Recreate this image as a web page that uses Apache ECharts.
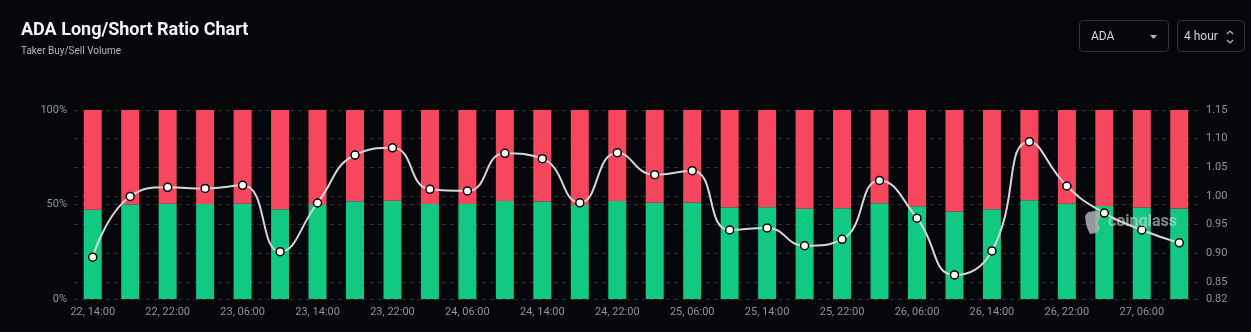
<!DOCTYPE html>
<html>
<head>
<meta charset="utf-8">
<title>ADA Long/Short Ratio Chart</title>
<script src="https://cdn.jsdelivr.net/npm/echarts@6/dist/echarts.min.js"></script>
<style>
  html, body { margin: 0; padding: 0; background: #05070b; }
  #chart { width: 1251px; height: 332px; }
</style>
</head>
<body>
<div id="chart"></div>
<script>
// 4-hour buckets, ADA taker buy/sell volume
const categories = [
  '22, 14:00', '22, 18:00', '22, 22:00',
  '23, 02:00', '23, 06:00', '23, 10:00', '23, 14:00', '23, 18:00', '23, 22:00',
  '24, 02:00', '24, 06:00', '24, 10:00', '24, 14:00', '24, 18:00', '24, 22:00',
  '25, 02:00', '25, 06:00', '25, 10:00', '25, 14:00', '25, 18:00', '25, 22:00',
  '26, 02:00', '26, 06:00', '26, 10:00', '26, 14:00', '26, 18:00', '26, 22:00',
  '27, 02:00', '27, 06:00', '27, 10:00'
];

// Long share (%) per bucket
const longPct = [
  47.17, 49.97, 50.37, 50.32, 50.46, 47.44, 49.69, 51.72, 52.02, 50.29,
  50.21, 51.79, 51.57, 49.70, 51.82, 50.91, 51.08, 48.47, 48.56, 47.73,
  48.03, 50.67, 49.01, 46.29, 47.48, 52.26, 50.43, 49.24, 48.47, 47.86
];

// Short share (%) per bucket
const shortPct = [
  52.83, 50.03, 49.63, 49.68, 49.54, 52.56, 50.31, 48.28, 47.98, 49.71,
  49.79, 48.21, 48.43, 50.30, 48.18, 49.09, 48.92, 51.53, 51.44, 52.27,
  51.97, 49.33, 50.99, 53.71, 52.52, 47.74, 49.57, 50.76, 51.53, 52.14
];

// Long/short ratio per bucket
const ratio = [
  0.8930, 0.9990, 1.0150, 1.0130, 1.0185, 0.9026, 0.9876, 1.0714, 1.0840, 1.0115,
  1.0086, 1.0744, 1.0650, 0.9880, 1.0755, 1.0370, 1.0440, 0.9405, 0.9440, 0.9130,
  0.9242, 1.0270, 0.9610, 0.8620, 0.9040, 1.0947, 1.0173, 0.9700, 0.9405, 0.9180
];

// Right-axis tick labels
const ratioTicks = [0.82, 0.85, 0.90, 0.95, 1.00, 1.05, 1.10, 1.15];

const GREEN = '#12c983';
const RED = '#f6475f';
const AXIS_TEXT = '#8f9399';
const GRID_LINE = '#2b2f36';
const FONT = 'Roboto, "Noto Sans", sans-serif';

const chart = echarts.init(document.getElementById('chart'), null, { renderer: 'canvas' });

chart.setOption({
  backgroundColor: '#05070b',
  animation: false,
  title: {
    text: 'ADA Long/Short Ratio Chart',
    subtext: 'Taker Buy/Sell Volume',
    left: 16,
    top: 16,
    itemGap: 7,
    textStyle: { color: '#f2f3f5', fontSize: 18, fontWeight: 'bold', fontFamily: FONT },
    subtextStyle: { color: '#b4b7bd', fontSize: 10, fontFamily: FONT }
  },
  grid: { left: 74, right: 53, top: 110, bottom: 33 },
  xAxis: {
    type: 'category',
    data: categories,
    axisLine: { show: false },
    axisTick: { show: false },
    axisLabel: {
      interval: 1,
      color: AXIS_TEXT,
      fontSize: 11,
      fontFamily: FONT,
      margin: 8
    }
  },
  yAxis: [
    {
      type: 'value',
      min: 0,
      max: 100,
      interval: 50,
      position: 'left',
      axisLine: { show: false },
      axisTick: { show: false },
      axisLabel: { formatter: '{value}%', color: AXIS_TEXT, fontSize: 11, fontFamily: FONT, margin: 7 },
      splitLine: { show: true, lineStyle: { color: GRID_LINE, type: [4, 4], width: 1 } }
    },
    {
      type: 'value',
      min: 0.82,
      max: 1.15,
      position: 'right',
      axisLine: { show: false },
      axisTick: { show: false, customValues: ratioTicks },
      axisLabel: {
        customValues: ratioTicks,
        formatter: v => v.toFixed(2),
        color: AXIS_TEXT,
        fontSize: 11,
        fontFamily: FONT,
        margin: 8
      },
      splitLine: { show: true, lineStyle: { color: GRID_LINE, type: [4, 4], width: 1 } }
    }
  ],
  series: [
    {
      name: 'Long',
      type: 'bar',
      stack: 'share',
      barWidth: 18,
      yAxisIndex: 0,
      data: longPct,
      itemStyle: { color: GREEN },
      z: 2
    },
    {
      name: 'Short',
      type: 'bar',
      stack: 'share',
      barWidth: 18,
      yAxisIndex: 0,
      data: shortPct,
      itemStyle: { color: RED },
      z: 2
    },
    {
      name: 'Long/Short Ratio',
      type: 'line',
      yAxisIndex: 1,
      data: ratio,
      smooth: 0.5,
      symbol: 'circle',
      symbolSize: 8,
      lineStyle: { color: '#d6d6d6', width: 2 },
      itemStyle: { color: '#ffffff', borderColor: '#000000', borderWidth: 1.5 },
      z: 5
    }
  ],
  graphic: [
    // symbol selector
    {
      type: 'rect',
      shape: { x: 1079.5, y: 20.5, width: 89, height: 31, r: 4 },
      style: { fill: 'rgba(0,0,0,0)', stroke: '#30343b', lineWidth: 1 }
    },
    {
      type: 'text',
      x: 1091, y: 37,
      style: { text: 'ADA', fill: '#d4d6da', font: '12px ' + FONT, verticalAlign: 'middle' }
    },
    {
      type: 'polygon',
      shape: { points: [[1150, 35], [1157, 35], [1153.5, 39]] },
      style: { fill: '#b8bbc0' }
    },
    // interval selector
    {
      type: 'rect',
      shape: { x: 1177.5, y: 20.5, width: 67, height: 31, r: 4 },
      style: { fill: 'rgba(0,0,0,0)', stroke: '#30343b', lineWidth: 1 }
    },
    {
      type: 'text',
      x: 1184, y: 37,
      style: { text: '4 hour', fill: '#d4d6da', font: '12px ' + FONT, verticalAlign: 'middle' }
    },
    {
      type: 'polyline',
      shape: { points: [[1227, 34], [1230, 31], [1233, 34]] },
      style: { stroke: '#b8bbc0', lineWidth: 1.2, fill: null }
    },
    {
      type: 'polyline',
      shape: { points: [[1227, 40], [1230, 43], [1233, 40]] },
      style: { stroke: '#b8bbc0', lineWidth: 1.2, fill: null }
    },
    // coinglass mark
    {
      type: 'polygon',
      z: 10,
      shape: {
        points: [[1085, 216], [1088, 212], [1095, 211], [1100, 212], [1100, 218], [1098, 223],
                 [1100, 228], [1097, 233], [1090, 234], [1088, 230], [1086, 224]]
      },
      style: { fill: 'rgba(175,176,180,0.85)' }
    },
    {
      type: 'text',
      z: 10,
      x: 1108, y: 222,
      style: { text: 'coinglass', fill: 'rgba(215,217,220,0.6)', font: 'bold 16px ' + FONT, verticalAlign: 'middle' }
    }
  ]
});
</script>
</body>
</html>
